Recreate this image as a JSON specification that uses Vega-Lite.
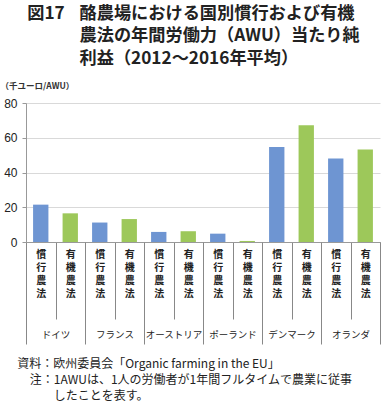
{
  "$schema": "https://vega.github.io/schema/vega-lite/v6.json",
  "width": 354,
  "height": 139,
  "autosize": {"type": "none"},
  "padding": {"left": 26, "top": 103, "right": 4, "bottom": 161},
  "background": "white",
  "data": {
    "values": [
      {"country": "ドイツ", "method": "慣行農法", "key": "ドイツ_慣行農法", "value": 21.5},
      {"country": "ドイツ", "method": "有機農法", "key": "ドイツ_有機農法", "value": 16.5},
      {"country": "フランス", "method": "慣行農法", "key": "フランス_慣行農法", "value": 11.2},
      {"country": "フランス", "method": "有機農法", "key": "フランス_有機農法", "value": 13.2},
      {"country": "オーストリア", "method": "慣行農法", "key": "オーストリア_慣行農法", "value": 5.8},
      {"country": "オーストリア", "method": "有機農法", "key": "オーストリア_有機農法", "value": 6.2},
      {"country": "ポーランド", "method": "慣行農法", "key": "ポーランド_慣行農法", "value": 4.8},
      {"country": "ポーランド", "method": "有機農法", "key": "ポーランド_有機農法", "value": 0.6},
      {"country": "デンマーク", "method": "慣行農法", "key": "デンマーク_慣行農法", "value": 54.7},
      {"country": "デンマーク", "method": "有機農法", "key": "デンマーク_有機農法", "value": 67.2},
      {"country": "オランダ", "method": "慣行農法", "key": "オランダ_慣行農法", "value": 48.0},
      {"country": "オランダ", "method": "有機農法", "key": "オランダ_有機農法", "value": 53.2}
    ]
  },
  "layer": [
    {
      "mark": {"type": "bar", "width": {"band": 0.52}},
      "encoding": {
        "x": {
          "field": "key", "type": "nominal", "sort": null,
          "scale": {"paddingInner": 0, "paddingOuter": 0},
          "axis": {
            "orient": "bottom",
            "title": ["酪農場における国別慣行および有機", "農法の年間労働力（AWU）当たり純", "利益（2012〜2016年平均）"],
            "titleAnchor": "start",
            "titleAlign": "left",
            "titleBaseline": "top",
            "titleX": 53,
            "titleY": -237.5,
            "titleFont": "Noto Sans CJK JP",
            "titleFontSize": 17.2,
            "titleFontWeight": "bold",
            "titleLineHeight": 22.4,
            "titleColor": "#222",
            "domain": true,
            "domainColor": "#999",
            "grid": false,
            "tickBand": "extent",
            "tickSize": 77,
            "tickColor": "#888",
            "labelExpr": "datum.value ? split(split(datum.value, '_')[1], '') : ''",
            "labelAngle": 0,
            "labelFont": "Noto Sans CJK JP",
            "labelFontSize": 10,
            "labelFontWeight": "bold",
            "labelLineHeight": 13.1,
            "labelBaseline": "top",
            "labelPadding": -70,
            "labelColor": "#222"
          }
        },
        "y": {
          "field": "value", "type": "quantitative",
          "scale": {"domain": [0, 80], "nice": false},
          "axis": {
            "orient": "left",
            "values": [0, 20, 40, 60, 80],
            "title": "（千ユーロ/AWU）",
            "titleAngle": 0,
            "titleAlign": "left",
            "titleBaseline": "middle",
            "titleX": -26,
            "titleY": -18,
            "titleFont": "Noto Sans CJK JP",
            "titleFontSize": 8.5,
            "titleFontWeight": "bold",
            "titleColor": "#333",
            "labelFont": "Liberation Sans",
            "labelFontSize": 12,
            "labelColor": "#222",
            "labelPadding": 5,
            "tickSize": 4,
            "tickColor": "#999",
            "domainColor": "#999",
            "gridColor": "#d9d9d9"
          }
        },
        "color": {
          "field": "method", "type": "nominal",
          "scale": {"domain": ["慣行農法", "有機農法"], "range": ["#6E95D2", "#9DC85A"]},
          "legend": null
        }
      }
    },
    {
      "mark": {"type": "point", "opacity": 0},
      "encoding": {
        "x": {
          "field": "key", "type": "nominal", "sort": null,
          "axis": {
            "orient": "bottom",
            "domain": false,
            "grid": false,
            "tickBand": "extent",
            "tickSize": 102,
            "tickColor": "#888",
            "tickOpacity": {"condition": {"test": "datum.extra || (datum.value && indexof(datum.value, '有機') >= 0)", "value": 1}, "value": 0},
            "labelExpr": "datum.value && indexof(datum.value, '慣行') >= 0 ? split(datum.value, '_')[0] : ''",
            "labelAngle": 0,
            "labelOffset": 14.75,
            "labelFont": "Noto Sans CJK JP",
            "labelFontSize": 9.5,
            "labelColor": "#222",
            "labelBaseline": "middle",
            "labelPadding": -10,
            "title": "資料：欧州委員会「Organic farming in the EU」",
            "titleAnchor": "start",
            "titleAlign": "left",
            "titleBaseline": "top",
            "titleX": -9.3,
            "titleY": 116.6,
            "titleFont": "Noto Sans CJK JP",
            "titleFontSize": 12,
            "titleFontWeight": "normal",
            "titleColor": "#222"
          }
        },
        "y": {
          "field": "value", "type": "quantitative",
          "axis": {
            "orient": "left",
            "domain": false, "grid": false, "ticks": false, "labels": false,
            "title": "図17",
            "titleAngle": 0,
            "titleAnchor": "start",
            "titleAlign": "left",
            "titleBaseline": "top",
            "titleX": 0.7,
            "titleY": -98.5,
            "titleFont": "Noto Sans CJK JP",
            "titleFontSize": 17.2,
            "titleFontWeight": "bold",
            "titleColor": "#222"
          }
        }
      }
    },
    {
      "mark": {"type": "point", "opacity": 0},
      "encoding": {
        "x": {
          "field": "key", "type": "nominal", "sort": null,
          "axis": {
            "orient": "bottom",
            "domain": false, "grid": false, "ticks": false, "labels": false,
            "title": "注：1AWUは、1人の労働者が1年間フルタイムで農業に従事",
            "titleAnchor": "start",
            "titleAlign": "left",
            "titleBaseline": "top",
            "titleX": 3.3,
            "titleY": 132.8,
            "titleFont": "Noto Sans CJK JP",
            "titleFontSize": 12,
            "titleFontWeight": "normal",
            "titleColor": "#222"
          }
        },
        "y": {
          "field": "value", "type": "quantitative",
          "axis": {
            "orient": "left",
            "domain": false, "grid": false, "ticks": false, "labels": false,
            "title": "したことを表す。",
            "titleAngle": 0,
            "titleAnchor": "start",
            "titleAlign": "left",
            "titleBaseline": "top",
            "titleX": 27.3,
            "titleY": 287,
            "titleFont": "Noto Sans CJK JP",
            "titleFontSize": 12,
            "titleFontWeight": "normal",
            "titleColor": "#222"
          }
        }
      }
    }
  ],
  "resolve": {"axis": {"x": "independent", "y": "independent"}},
  "config": {"view": {"stroke": null}}
}
